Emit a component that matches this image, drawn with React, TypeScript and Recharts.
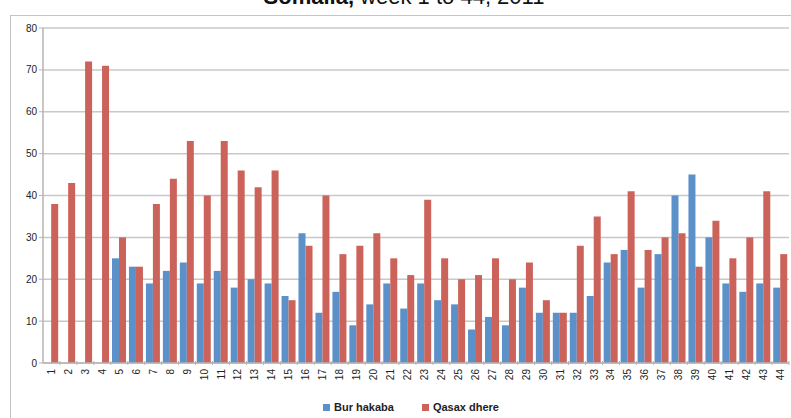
import { BarChart, Bar, XAxis, YAxis, CartesianGrid } from 'recharts';

const weeks = Array.from({ length: 44 }, (_v, i) => String(i + 1));

const burHakaba = [
    0, 0, 0, 0, 25, 23, 19, 22, 24, 19, 22, 18, 20, 19, 16, 31, 12, 17, 9, 14, 19, 13,
    19, 15, 14, 8, 11, 9, 18, 12, 12, 12, 16, 24, 27, 18, 26, 40, 45, 30, 19, 17, 19, 18,
];

const qasaxDhere = [
    38, 43, 72, 71, 30, 23, 38, 44, 53, 40, 53, 46, 42, 46, 15, 28, 40, 26, 28, 31, 25, 21,
    39, 25, 20, 21, 25, 20, 24, 15, 12, 28, 35, 26, 41, 27, 30, 31, 23, 34, 25, 30, 41, 26,
];

const yTicks = [0, 10, 20, 30, 40, 50, 60, 70, 80];

const data = weeks.map((w, i) => ({
    week: w,
    bur: burHakaba[i] || null,
    qasax: qasaxDhere[i],
}));

const BLUE = '#5b90c9';
const RED = '#cc635b';
const FONT = '"Liberation Sans", Arial, sans-serif';

// rotated week label plus a tick mark on the category boundary
const WeekTick = (props: any) => {
    const { x, y, payload, width } = props;
    const half = width / weeks.length / 2;
    return (
        <g>
            <line x1={x + half} x2={x + half} y1={y - 8} y2={y - 4} stroke="#b5b5b5" />
            <text
                x={x}
                y={y}
                transform={`rotate(-90, ${x}, ${y})`}
                textAnchor="end"
                dominantBaseline="central"
                fontSize={10}
                fill="#222"
                fontFamily={FONT}
            >
                {payload.value}
            </text>
        </g>
    );
};

export default function App() {
    return (
        <div style={{ position: 'absolute', left: 0, top: 0, width: 791, height: 418, overflow: 'hidden', background: '#fff', fontFamily: FONT }}>
            <div style={{ position: 'absolute', left: 10, top: 15, width: 800, height: 420, border: '1px solid #c4c4c4' }} />
            <div style={{ position: 'absolute', left: 0, width: 808, top: -14, textAlign: 'center', fontSize: 22, lineHeight: '22px', color: '#111' }}>
                <b>Somalia,</b> week 1 to 44, 2011
            </div>
            <div style={{ position: 'absolute', left: 0, top: 0 }}>
                <BarChart
                    width={791}
                    height={418}
                    data={data}
                    margin={{ top: 28, right: 2, left: 0, bottom: 0 }}
                    barCategoryGap="7%"
                    barGap={0}
                >
                    <CartesianGrid vertical={false} stroke="#c8c8c8" strokeWidth={1.5} />
                    <XAxis
                        dataKey="week"
                        height={55}
                        interval={0}
                        tickLine={false}
                        axisLine={{ stroke: '#b5b5b5', strokeWidth: 1.5 }}
                        tick={<WeekTick />}
                        tickMargin={0}
                    />
                    <YAxis
                        width={43}
                        domain={[0, 80]}
                        ticks={yTicks}
                        interval={0}
                        tickSize={4}
                        tickLine={{ stroke: '#b5b5b5' }}
                        axisLine={{ stroke: '#b5b5b5', strokeWidth: 1.5 }}
                        tick={{ fontSize: 10, fill: '#222', fontFamily: FONT }}
                    />
                    <Bar dataKey="bur" fill={BLUE} isAnimationActive={false} />
                    <Bar dataKey="qasax" fill={RED} isAnimationActive={false} />
                </BarChart>
            </div>
            <div style={{ position: 'absolute', top: 401, left: 0, width: 822, display: 'flex', justifyContent: 'center', gap: 28, fontSize: 11, fontWeight: 'bold', color: '#222' }}>
                {[['Bur hakaba', BLUE], ['Qasax dhere', RED]].map(([name, c]) => (
                    <div key={name} style={{ display: 'flex', alignItems: 'center', gap: 4 }}>
                        <span style={{ width: 7, height: 7, background: c, display: 'inline-block' }} />
                        {name}
                    </div>
                ))}
            </div>
        </div>
    );
}
